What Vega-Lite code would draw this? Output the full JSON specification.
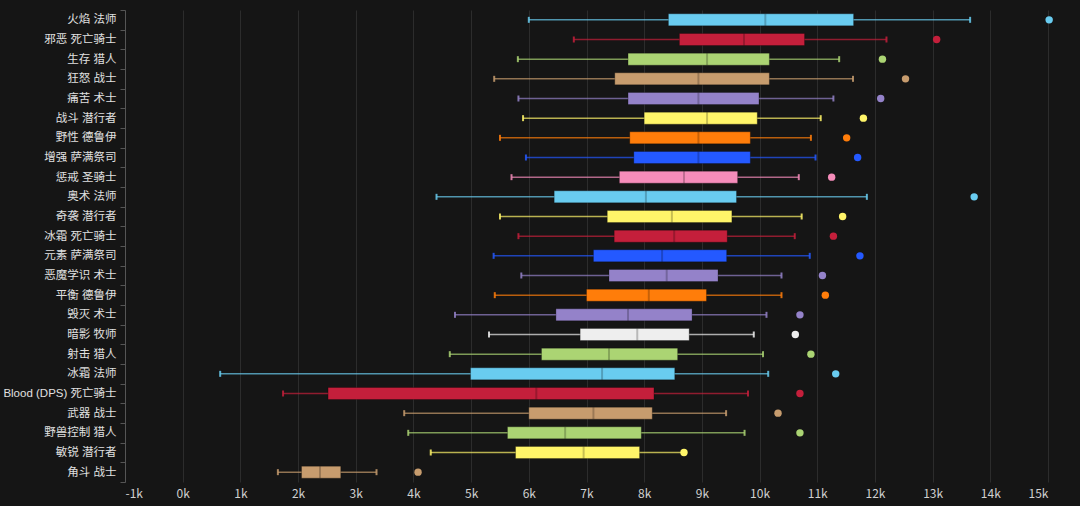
{
  "$schema": "https://vega.github.io/schema/vega-lite/v6.json",
  "width": 923,
  "height": 472,
  "autosize": {"type": "none"},
  "padding": {"left": 125, "top": 10, "right": 32, "bottom": 24},
  "background": "#151515",
  "config": {
    "view": {"stroke": null},
    "font": "Noto Sans CJK SC"
  },
  "data": {
    "values": [
      {"name": "火焰 法师", "cls": "法师", "min": 6000, "q1": 8420, "med": 10100, "q3": 11630, "max": 13650, "out": 15020},
      {"name": "邪恶 死亡骑士", "cls": "死亡骑士", "min": 6780, "q1": 8610, "med": 9730, "q3": 10780, "max": 12200, "out": 13070},
      {"name": "生存 猎人", "cls": "猎人", "min": 5810, "q1": 7720, "med": 9090, "q3": 10170, "max": 11380, "out": 12130},
      {"name": "狂怒 战士", "cls": "战士", "min": 5400, "q1": 7490, "med": 8940, "q3": 10170, "max": 11620, "out": 12530},
      {"name": "痛苦 术士", "cls": "术士", "min": 5820, "q1": 7720, "med": 8940, "q3": 9990, "max": 11280, "out": 12100},
      {"name": "战斗 潜行者", "cls": "潜行者", "min": 5900, "q1": 8000, "med": 9090, "q3": 9960, "max": 11060, "out": 11800},
      {"name": "野性 德鲁伊", "cls": "德鲁伊", "min": 5500, "q1": 7750, "med": 8940, "q3": 9840, "max": 10890, "out": 11510},
      {"name": "增强 萨满祭司", "cls": "萨满祭司", "min": 5950, "q1": 7820, "med": 8940, "q3": 9840, "max": 10970, "out": 11700},
      {"name": "惩戒 圣骑士", "cls": "圣骑士", "min": 5700, "q1": 7570, "med": 8690, "q3": 9620, "max": 10680, "out": 11250},
      {"name": "奥术 法师", "cls": "法师", "min": 4400, "q1": 6440, "med": 8030, "q3": 9600, "max": 11860, "out": 13720},
      {"name": "奇袭 潜行者", "cls": "潜行者", "min": 5500, "q1": 7360, "med": 8480, "q3": 9520, "max": 10730, "out": 11440},
      {"name": "冰霜 死亡骑士", "cls": "死亡骑士", "min": 5820, "q1": 7480, "med": 8520, "q3": 9440, "max": 10610, "out": 11280},
      {"name": "元素 萨满祭司", "cls": "萨满祭司", "min": 5390, "q1": 7120, "med": 8310, "q3": 9430, "max": 10870, "out": 11740},
      {"name": "恶魔学识 术士", "cls": "术士", "min": 5870, "q1": 7390, "med": 8390, "q3": 9280, "max": 10380, "out": 11090},
      {"name": "平衡 德鲁伊", "cls": "德鲁伊", "min": 5410, "q1": 7000, "med": 8080, "q3": 9080, "max": 10380, "out": 11140},
      {"name": "毁灭 术士", "cls": "术士", "min": 4720, "q1": 6470, "med": 7720, "q3": 8830, "max": 10120, "out": 10700},
      {"name": "暗影 牧师", "cls": "牧师", "min": 5310, "q1": 6890, "med": 7880, "q3": 8780, "max": 9900, "out": 10620},
      {"name": "射击 猎人", "cls": "猎人", "min": 4630, "q1": 6220, "med": 7390, "q3": 8580, "max": 10060, "out": 10890},
      {"name": "冰霜 法师", "cls": "法师", "min": 650, "q1": 4990, "med": 7270, "q3": 8530, "max": 10150, "out": 11320},
      {"name": "Blood (DPS) 死亡骑士", "cls": "死亡骑士", "min": 1740, "q1": 2520, "med": 6130, "q3": 8170, "max": 9800, "out": 10700},
      {"name": "武器 战士", "cls": "战士", "min": 3840, "q1": 6000, "med": 7120, "q3": 8140, "max": 9420, "out": 10320},
      {"name": "野兽控制 猎人", "cls": "猎人", "min": 3910, "q1": 5630, "med": 6630, "q3": 7950, "max": 9740, "out": 10700},
      {"name": "敏锐 潜行者", "cls": "潜行者", "min": 4300, "q1": 5770, "med": 6950, "q3": 7920, "max": 8680, "out": 8690},
      {"name": "角斗 战士", "cls": "战士", "min": 1650, "q1": 2060, "med": 2380, "q3": 2740, "max": 3360, "out": 4080}
    ]
  },
  "encoding": {
    "y": {
      "field": "name",
      "type": "nominal",
      "sort": null,
      "title": null,
      "scale": {"paddingInner": 0, "paddingOuter": 0},
      "axis": {
        "labelColor": "#e0e0e0",
        "labelFont": "Liberation Sans, Noto Sans CJK SC",
        "labelFontSize": 11.5,
        "labelPadding": 4,
        "labelLimit": 200,
        "tickColor": "#555555",
        "tickSize": 5,
        "tickBand": "extent",
        "domainColor": "#555555",
        "grid": false
      }
    },
    "color": {
      "field": "cls",
      "type": "nominal",
      "legend": null,
      "scale": {
        "domain": ["法师", "死亡骑士", "猎人", "战士", "术士", "潜行者", "德鲁伊", "萨满祭司", "圣骑士", "牧师"],
        "range": ["#69CCF0", "#C41F3B", "#ABD473", "#C79C6E", "#9482C9", "#FFF569", "#FF7D0A", "#2459FF", "#F58CBA", "#EEEEEE"]
      }
    }
  },
  "layer": [
    {
      "mark": {"type": "rule", "strokeWidth": 1.5, "opacity": 0.7},
      "encoding": {
        "x": {
          "field": "min",
          "type": "quantitative",
          "title": null,
          "scale": {"domain": [-1000, 15000], "nice": false, "zero": false},
          "axis": {
            "values": [-1000, 0, 1000, 2000, 3000, 4000, 5000, 6000, 7000, 8000, 9000, 10000, 11000, 12000, 13000, 14000, 15000],
            "labelExpr": "datum.value / 1000 + 'k'",
            "labelColor": "#d0d0d0",
            "labelFontSize": 12,
            "labelPadding": 6,
            "gridColor": "#2c2c2c",
            "gridWidth": 1,
            "domain": false,
            "ticks": false
          }
        },
        "x2": {"field": "max"}
      }
    },
    {
      "mark": {"type": "tick", "size": 6, "thickness": 2, "opacity": 0.85},
      "encoding": {"x": {"field": "min", "type": "quantitative"}}
    },
    {
      "mark": {"type": "tick", "size": 6, "thickness": 2, "opacity": 0.85},
      "encoding": {"x": {"field": "max", "type": "quantitative"}}
    },
    {
      "mark": {"type": "bar", "size": 12, "stroke": "#000000", "strokeOpacity": 0.25, "strokeWidth": 1, "fillOpacity": 1},
      "encoding": {
        "x": {"field": "q1", "type": "quantitative"},
        "x2": {"field": "q3"}
      }
    },
    {
      "mark": {"type": "tick", "size": 12, "thickness": 2, "color": "#000000", "opacity": 0.22},
      "encoding": {"x": {"field": "med", "type": "quantitative"}, "color": {"value": "#000000"}}
    },
    {
      "mark": {"type": "point", "filled": true, "size": 55, "opacity": 1, "shape": "circle"},
      "encoding": {"x": {"field": "out", "type": "quantitative"}}
    }
  ]
}
